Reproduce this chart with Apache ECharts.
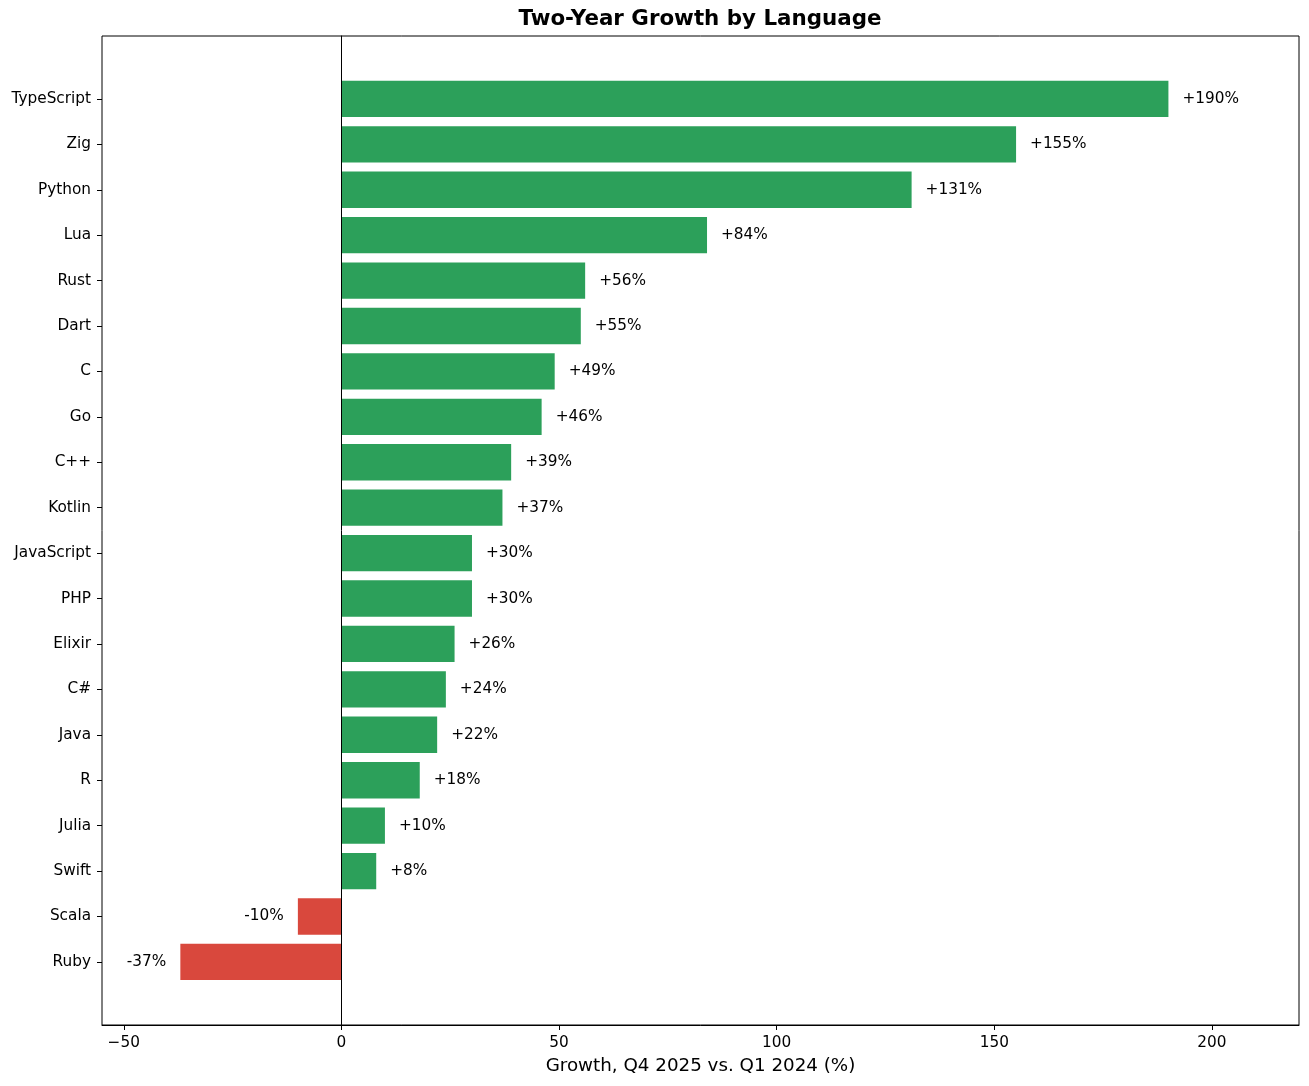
<!DOCTYPE html>
<html>
<head>
<meta charset="utf-8">
<title>Two-Year Growth by Language</title>
<script src="https://cdn.jsdelivr.net/npm/echarts@6/dist/echarts.min.js"></script>
<style>
  html, body { margin: 0; padding: 0; background: #fff; }
  #main { width: 1309px; height: 1086px; }
</style>
</head>
<body>
<div id="main"></div>
<script>
// chart data, top bar first
var languages = ["TypeScript", "Zig", "Python", "Lua", "Rust", "Dart", "C", "Go", "C++", "Kotlin",
  "JavaScript", "PHP", "Elixir", "C#", "Java", "R", "Julia", "Swift", "Scala", "Ruby"];
var growth = [190, 155, 131, 84, 56, 55, 49, 46, 39, 37, 30, 30, 26, 24, 22, 18, 10, 8, -10, -37];
var xTicks = [-50, 0, 50, 100, 150, 200];

var GREEN = "#2ca05a";
var RED = "#d9483d";
var FONT = "DejaVu Sans";

document.addEventListener("DOMContentLoaded", function () {
  var chartDom = document.getElementById("main");
  var myChart = echarts.init(chartDom, null, { renderer: "canvas" });

  // build bar items with colour and label side from the sign
  var barData = growth.map(function (v) {
    return {
      value: v,
      itemStyle: { color: v >= 0 ? GREEN : RED },
      label: { position: v >= 0 ? "right" : "left" }
    };
  });

  var option = {
    animation: false,
    backgroundColor: "#fff",
    textStyle: { fontFamily: FONT },
    title: {
      text: "Two-Year Growth by Language",
      left: 700,
      textAlign: "center",
      top: 9,
      padding: 0,
      textStyle: { fontFamily: FONT, fontSize: 21.4, fontWeight: "bold", color: "#000" }
    },
    grid: [
      // frame + x axis
      { left: 102, top: 36, width: 1197, height: 989, show: true,
        borderColor: "#000", borderWidth: 1, backgroundColor: "transparent" },
      // bars (matplotlib margins leave space above/below)
      { left: 102, top: 76.2, width: 1197, height: 908.4 }
    ],
    xAxis: [
      {
        gridIndex: 0,
        type: "value",
        min: -55,
        max: 220,
        axisLine: { show: true, onZero: false, lineStyle: { color: "#000", width: 1 } },
        axisTick: { show: true, customValues: xTicks, length: 5, lineStyle: { color: "#000" } },
        axisLabel: {
          customValues: xTicks,
          fontSize: 15.3,
          color: "#000",
          margin: 11,
          fontFamily: FONT,
          formatter: function (v) { return v < 0 ? "\u2212" + Math.abs(v) : String(v); }
        },
        splitLine: { show: false },
        name: "Growth, Q4 2025 vs. Q1 2024 (%)",
        nameLocation: "middle",
        nameGap: 32,
        nameTextStyle: { fontSize: 18.3, color: "#000", fontFamily: FONT }
      },
      { gridIndex: 1, type: "value", min: -55, max: 220, show: false }
    ],
    yAxis: [
      {
        // vertical line at x = 0
        gridIndex: 0,
        type: "value",
        min: 0,
        max: 1,
        z: 10,
        axisLine: { show: true, onZero: true, lineStyle: { color: "#000", width: 1 } },
        axisTick: { show: false },
        axisLabel: { show: false },
        splitLine: { show: false }
      },
      {
        gridIndex: 1,
        type: "category",
        data: languages,
        inverse: true,
        axisLine: { show: false, onZero: false },
        axisTick: { show: true, alignWithLabel: true, length: 5, lineStyle: { color: "#000" } },
        axisLabel: { fontSize: 15.3, color: "#000", margin: 11, fontFamily: FONT },
        splitLine: { show: false }
      }
    ],
    series: [
      {
        name: "Growth",
        type: "bar",
        xAxisIndex: 1,
        yAxisIndex: 1,
        barWidth: "80%",
        data: barData,
        label: {
          show: true,
          distance: 14,
          fontSize: 15.3,
          color: "#000",
          fontFamily: FONT,
          formatter: function (p) {
            return (p.value > 0 ? "+" : "") + p.value + "%";
          }
        }
      }
    ]
  };

  myChart.setOption(option);
});
</script>
</body>
</html>
